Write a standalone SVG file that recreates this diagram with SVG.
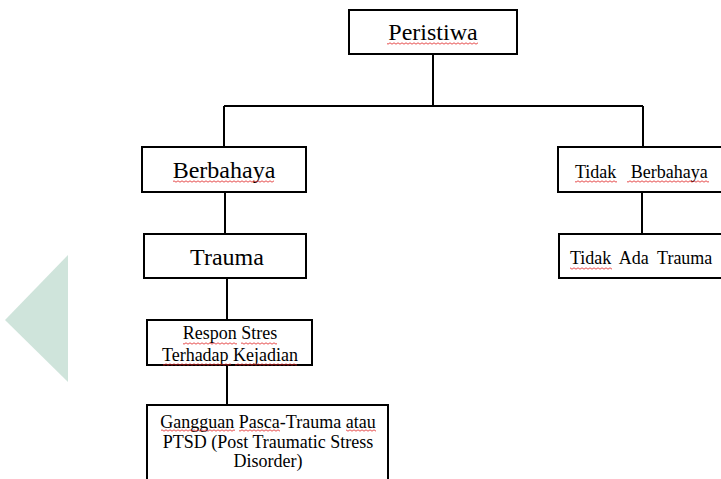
<svg xmlns="http://www.w3.org/2000/svg" width="721" height="479" viewBox="0 0 721 479">
<style>
.box{fill:#fff;stroke:#000;stroke-width:2}
.t{font-family:"Liberation Serif","Times New Roman",serif;fill:#000}
.big{font-size:24px}
.sm{font-size:18px}
.wl{fill:url(#wave)}
#connectors path{stroke:#000;stroke-width:2;fill:none}
</style>
<defs>
<pattern id="wave" width="4" height="3" patternUnits="userSpaceOnUse">
<path d="M0,2.2 L2,0.8 L4,2.2" fill="none" stroke="#e02020" stroke-width="0.8"/>
</pattern>
</defs>
<rect width="721" height="479" fill="#fff"/>
<polygon points="5,320 68,255 68,382" fill="#cfe4db"/>
<g id="connectors">
<path d="M433,54 V106"/>
<path d="M224,106 H643"/>
<path d="M224,106 V147"/>
<path d="M643,106 V147"/>
<path d="M225,192 V234"/>
<path d="M642,192 V234"/>
<path d="M227,278 V320"/>
<path d="M227,365 V405"/>
</g>
<g id="peristiwa">
<rect class="box" x="349" y="10" width="168" height="44"/>
<text class="t big" x="433" y="40" text-anchor="middle">Peristiwa</text>
<rect class="wl" x="387" y="42" width="91" height="3"/>
</g>
<g id="berbahaya">
<rect class="box" x="142" y="147" width="164" height="45"/>
<text class="t big" x="224" y="178" text-anchor="middle">Berbahaya</text>
<rect class="wl" x="173" y="180" width="101" height="3"/>
</g>
<g id="trauma">
<rect class="box" x="144" y="234" width="162" height="44"/>
<text class="t big" x="227" y="265" text-anchor="middle">Trauma</text>
</g>
<g id="respon">
<rect class="box" x="147" y="320" width="165" height="45"/>
<text class="t sm" text-anchor="middle"><tspan x="230" y="339">Respon Stres</tspan><tspan x="230" y="361">Terhadap Kejadian</tspan></text>
<rect class="wl" x="183" y="342" width="54" height="3"/>
<rect class="wl" x="241" y="342" width="36" height="3"/>
<rect class="wl" x="163" y="363" width="68" height="3"/>
<rect class="wl" x="235" y="363" width="62" height="3"/>
</g>
<g id="ptsd">
<rect class="box" x="147" y="405" width="241" height="85"/>
<text class="t sm" text-anchor="middle"><tspan x="268" y="428">Gangguan  Pasca-Trauma atau</tspan><tspan x="268" y="448">PTSD (Post Traumatic  Stress</tspan><tspan x="268" y="467">Disorder)</tspan></text>
<rect class="wl" x="161" y="429" width="74" height="3"/>
<rect class="wl" x="239" y="429" width="41" height="3"/>
<rect class="wl" x="346" y="429" width="30" height="3"/>
</g>
<g id="tidak-berbahaya">
<rect class="box" x="558" y="147" width="170" height="45"/>
<text class="t sm" x="575" y="178" word-spacing="10">Tidak Berbahaya</text>
<rect class="wl" x="575" y="180" width="42" height="3"/>
<rect class="wl" x="627" y="180" width="82" height="3"/>
</g>
<g id="tidak-ada-trauma">
<rect class="box" x="559" y="234" width="170" height="44"/>
<text class="t sm" x="570" y="264" word-spacing="4">Tidak Ada Trauma</text>
<rect class="wl" x="570" y="267" width="42" height="3"/>
</g>
</svg>
